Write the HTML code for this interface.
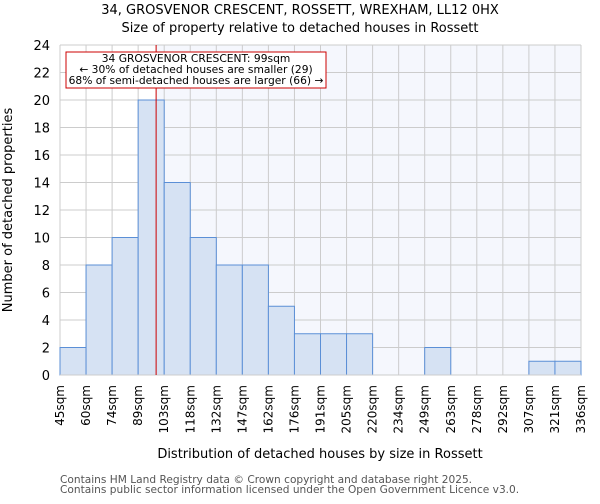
<!DOCTYPE html>
<html><head><meta charset="utf-8"><style>
body{margin:0;background:#fff;font-family:"DejaVu Sans","Liberation Sans",sans-serif}
</style></head><body>
<svg id="c" width="600" height="500" xmlns="http://www.w3.org/2000/svg" font-family="DejaVu Sans, Liberation Sans, sans-serif">
<text x="300" y="14" text-anchor="middle" font-size="13">34, GROSVENOR CRESCENT, ROSSETT, WREXHAM, LL12 0HX</text>
<text x="300" y="32" text-anchor="middle" font-size="13">Size of property relative to detached houses in Rossett</text>
<g id="plot"></g>
<text x="320" y="458" text-anchor="middle" font-size="13">Distribution of detached houses by size in Rossett</text>
<text x="12" y="210" text-anchor="middle" font-size="13" transform="rotate(-90 12 210)">Number of detached properties</text>
<text x="60" y="483" font-size="10.6" fill="#555">Contains HM Land Registry data © Crown copyright and database right 2025.</text>
<text x="60" y="493" font-size="10.6" fill="#555">Contains public sector information licensed under the Open Government Licence v3.0.</text>
</svg>
<script>
const binLabels=["45sqm","60sqm","74sqm","89sqm","103sqm","118sqm","132sqm","147sqm","162sqm","176sqm","191sqm","205sqm","220sqm","234sqm","249sqm","263sqm","278sqm","292sqm","307sqm","321sqm","336sqm"];
const counts=[2,8,10,20,14,10,8,8,5,3,3,3,0,0,2,0,0,0,1,1];
const yTicks=[0,2,4,6,8,10,12,14,16,18,20,22,24];
const propertyIndex=3+(99-89)/14.5;
const L=60,R=581,T=45,B=375,yMax=24;
const n=counts.length,bw=(R-L)/n;
const xs=i=>L+i*bw, ys=v=>B-(v/yMax)*(B-T);
const NS="http://www.w3.org/2000/svg",g=document.getElementById('plot');
function mk(t,a){const e=document.createElementNS(NS,t);for(const k in a)e.setAttribute(k,a[k]);g.appendChild(e);return e;}
const px=xs(propertyIndex);
let e=mk('rect',{x:L,y:T,width:px-L,height:B-T,fill:'#fff'});


e=mk('rect',{x:px,y:T,width:R-px,height:B-T,fill:'#f5f7fd'});


yTicks.forEach(v=>{
 e=mk('line',{x1:L,x2:R,y1:ys(v),y2:ys(v),stroke:'#ccc'});
 
 
 e=mk('text',{x:L-10,y:ys(v)+5,'text-anchor':'end','font-size':13});e.textContent=v;
 
 
});
binLabels.forEach((l,i)=>{
 const x=xs(i);
 e=mk('line',{x1:x,x2:x,y1:T,y2:B,stroke:'#ccc'});
 
 
 e=mk('text',{x:x+4,y:B+10,'text-anchor':'end','font-size':12,transform:`rotate(-90 ${x+4} ${B+10})`});e.textContent=l;
 
 
});
counts.forEach((v,i)=>{
 if(v<=0)return;
 e=mk('rect',{x:xs(i),y:ys(v),width:bw,height:B-ys(v),fill:'#d6e2f3',stroke:'#5b8fd6','stroke-width':1});
 
 
});
e=mk('line',{x1:L,x2:R,y1:B,y2:B,stroke:'#ccc'});


e=mk('line',{x1:px,x2:px,y1:T,y2:B,stroke:'#cc0000','stroke-width':1});


e=mk('rect',{x:66,y:52,width:260,height:36,fill:'#fff',stroke:'#cc0000'});


["34 GROSVENOR CRESCENT: 99sqm","← 30% of detached houses are smaller (29)","68% of semi-detached houses are larger (66) →"].forEach((t,i)=>{
 e=mk('text',{x:196,y:62+i*11,'text-anchor':'middle','font-size':10.7});e.textContent=t;
 
 
});
</script>
</body></html>
